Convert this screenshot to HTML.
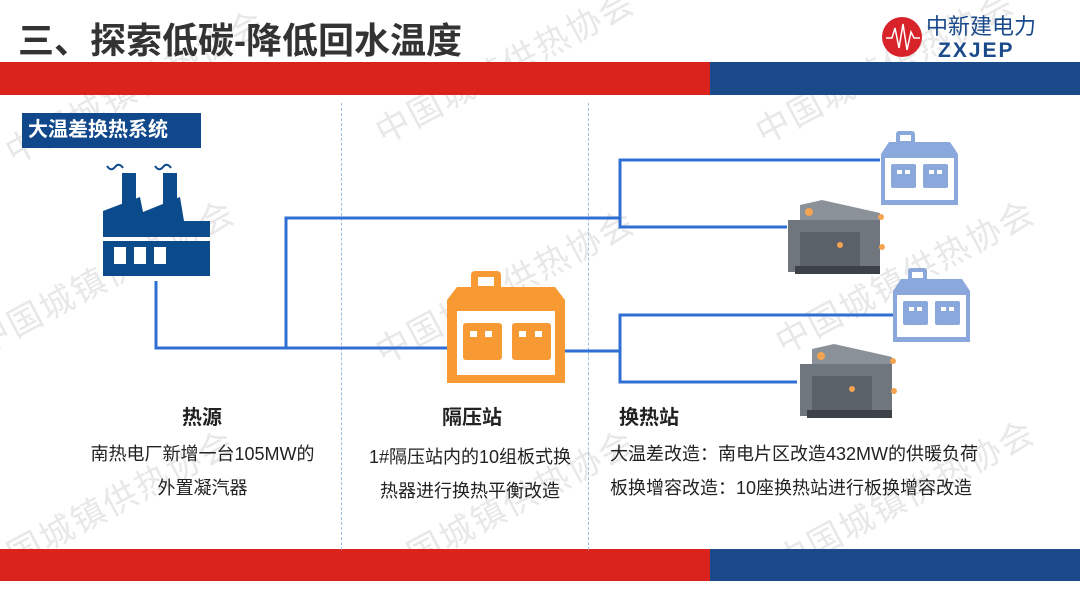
<!DOCTYPE html>
<html><head><meta charset="utf-8"><style>
*{margin:0;padding:0;box-sizing:border-box}
body{width:1080px;height:608px;background:#fff;position:relative;overflow:hidden;font-family:"Liberation Sans","Noto Sans CJK SC",sans-serif;color:#222}
.a{position:absolute}
.wm{position:absolute;color:#e8e8e8;font-size:34px;transform:rotate(-28deg);white-space:nowrap;letter-spacing:2px}
.t{position:absolute;font-size:18px;text-align:center;line-height:34px}
.h{position:absolute;font-size:19px;font-weight:bold}
</style></head><body>
<div class="wm" style="left:-10px;top:60px">中国城镇供热协会</div>
<div class="wm" style="left:360px;top:40px">中国城镇供热协会</div>
<div class="wm" style="left:740px;top:40px">中国城镇供热协会</div>
<div class="wm" style="left:-40px;top:250px">中国城镇供热协会</div>
<div class="wm" style="left:360px;top:260px">中国城镇供热协会</div>
<div class="wm" style="left:760px;top:250px">中国城镇供热协会</div>
<div class="wm" style="left:-40px;top:480px">中国城镇供热协会</div>
<div class="wm" style="left:360px;top:480px">中国城镇供热协会</div>
<div class="wm" style="left:760px;top:470px">中国城镇供热协会</div>

<div class="a" style="left:18px;top:12px;font-size:36px;font-weight:bold;color:#333;letter-spacing:0px">三、探索低碳-降低回水温度</div>
<div class="a" style="left:0;top:62px;width:710px;height:33px;background:#da231d"></div>
<div class="a" style="left:710px;top:62px;width:370px;height:33px;background:#1a4a8a"></div>
<div class="a" style="left:0;top:549px;width:710px;height:32px;background:#da231d"></div>
<div class="a" style="left:710px;top:549px;width:370px;height:32px;background:#1a4a8a"></div>
<svg class="a" style="left:880px;top:12px" width="190" height="50">
<circle cx="22" cy="25" r="20" fill="#d8232a"/>
<path d="M6 26 L12 26 L15 16 L19 36 L23 12 L27 38 L31 20 L34 26 L40 26" stroke="#fff" stroke-width="1.5" fill="none"/>
<text x="46" y="22" font-size="22" fill="#1a4a8a" font-family="Noto Sans CJK SC,sans-serif">中新建电力</text>
<text x="58" y="45" font-size="21" fill="#1a4a8a" font-weight="bold" font-family="Liberation Sans,sans-serif" letter-spacing="2">ZXJEP</text>
</svg>
<div class="a" style="left:22px;top:113px;width:179px;height:35px;background:#11488b;color:#fff;font-size:20px;font-weight:bold;line-height:35px;padding-left:6px">大温差换热系统</div>
<div class="a" style="left:341px;top:103px;height:447px;border-left:1px dashed #9cbde0"></div>
<div class="a" style="left:588px;top:103px;height:447px;border-left:1px dashed #9cbde0"></div>

<svg class="a" style="left:0;top:0" width="1080" height="608">
<g stroke="#2f6fd4" stroke-width="3" fill="none">
<polyline points="156,281 156,348 447,348"/>
<polyline points="286,348 286,218 620,218"/>
<polyline points="565,351 620,351"/>
<polyline points="880,160 620,160 620,227 787,227"/>
<polyline points="893,315 620,315 620,382 797,382"/>
</g>
<g fill="#0b4a8b">
<rect x="122" y="173" width="14" height="38"/><rect x="163" y="173" width="14" height="38"/>
<polygon points="103,222 103,211 140,197 143,212 180,197 184,221 210,221 210,237 103,237"/>
<rect x="103" y="241" width="107" height="35"/>
<path d="M107 166 q4 6 8 1 q4 -5 8 1" stroke="#0b4a8b" stroke-width="2" fill="none"/>
<path d="M155 166 q4 6 8 1 q4 -5 8 1" stroke="#0b4a8b" stroke-width="2" fill="none"/>
</g>
<g fill="#fff"><rect x="114" y="247" width="12" height="17"/><rect x="134" y="247" width="12" height="17"/><rect x="154" y="247" width="12" height="17"/></g>
<g fill="#f79a33">
<rect x="471" y="271" width="30" height="22" rx="4"/>
<polygon points="457,287 555,287 565,300 565,383 447,383 447,300"/>
</g>
<rect x="478" y="277" width="16" height="9" fill="#fff"/>
<rect x="457" y="311" width="98" height="64" fill="#fff"/>
<rect x="463" y="323" width="39" height="37" rx="3" fill="#f79a33"/>
<rect x="512" y="323" width="39" height="37" rx="3" fill="#f79a33"/>
<g fill="#fff"><rect x="470" y="331" width="7" height="6"/><rect x="485" y="331" width="7" height="6"/><rect x="519" y="331" width="7" height="6"/><rect x="535" y="331" width="7" height="6"/></g>
<g id="bh">
<rect x="896" y="131" width="19" height="14" rx="3" fill="#8aa8dc"/>
<rect x="900" y="135" width="11" height="6" fill="#fff"/>
<polygon points="889,142 950,142 958,154 958,205 881,205 881,154" fill="#8aa8dc"/>
<rect x="885" y="158" width="69" height="42" fill="#fff"/>
<rect x="891" y="164" width="25" height="24" rx="2" fill="#8aa8dc"/>
<rect x="923" y="164" width="25" height="24" rx="2" fill="#8aa8dc"/>
<g fill="#fff"><rect x="897" y="170" width="5" height="4"/><rect x="905" y="170" width="5" height="4"/><rect x="929" y="170" width="5" height="4"/><rect x="937" y="170" width="5" height="4"/></g>
</g>
<use href="#bh" x="12" y="137"/>
<g id="mc">
<polygon points="800,205 822,200 880,213 880,225 858,232 800,220" fill="#8a9199"/>
<rect x="788" y="220" width="92" height="52" fill="#6f767e"/>
<rect x="800" y="232" width="60" height="36" fill="#5b6168"/>
<rect x="795" y="266" width="85" height="8" fill="#3d4248"/>
<circle cx="809" cy="212" r="4" fill="#f4a350"/><circle cx="881" cy="217" r="3" fill="#f4a350"/><circle cx="882" cy="247" r="3" fill="#f4a350"/><circle cx="840" cy="245" r="3" fill="#f4a350"/>
</g>
<use href="#mc" x="12" y="144"/>
</svg>

<div class="h" style="left:182px;top:401px;font-size:20px">热源</div>
<div class="h" style="left:442px;top:401px;font-size:20px">隔压站</div>
<div class="h" style="left:619px;top:401px;font-size:20px">换热站</div>
<div class="t" style="left:60px;top:437px;width:285px">南热电厂新增一台105MW的<br>外置凝汽器</div>
<div class="t" style="left:345px;top:440px;width:250px">1#隔压站内的10组板式换<br>热器进行换热平衡改造</div>
<div class="t" style="left:610px;top:437px;text-align:left;width:460px">大温差改造：南电片区改造432MW的供暖负荷<br>板换增容改造：10座换热站进行板换增容改造</div>
</body></html>
